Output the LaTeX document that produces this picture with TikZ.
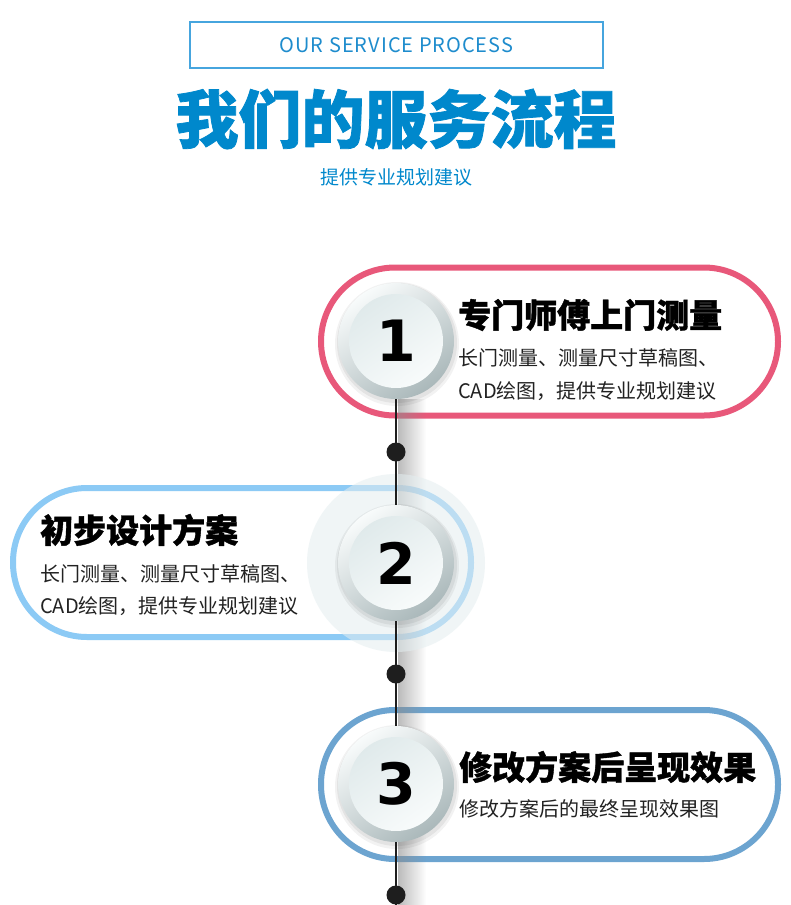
\documentclass[tikz,border=0pt]{standalone}
\usepackage{fontspec}
\setmainfont{Noto Sans CJK SC}
\newfontfamily\cjk{Noto Sans CJK SC}
\newfontfamily\titlefont[BoldFeatures={FakeBold=1.2}]{Noto Sans CJK SC}
\newfontfamily\spacedfont[LetterSpace=5]{Noto Sans CJK SC}
\newfontfamily\digitfont{DejaVu Sans}
\usetikzlibrary{fadings}
\tikzfading[name=fadeRight, left color=transparent!0, right color=transparent!100]
\definecolor{titleblue}{RGB}{0,136,204}
\definecolor{boxblue}{RGB}{70,165,222}
\definecolor{hdrtext}{RGB}{30,140,205}
\definecolor{pinkc}{RGB}{232,88,122}
\definecolor{lightbluec}{RGB}{140,202,245}
\definecolor{steelc}{RGB}{108,164,208}
\definecolor{linec}{RGB}{30,30,30}
\definecolor{bodyc}{RGB}{34,34,34}
\definecolor{ringlight}{RGB}{248,251,251}
\definecolor{ringdark}{RGB}{170,184,186}
\definecolor{disklight}{RGB}{248,251,251}
\definecolor{diskdark}{RGB}{224,234,235}
\definecolor{haloc}{RGB}{228,238,240}
\begin{document}
\begin{tikzpicture}[x=1pt,y=-1pt,
  pill/.style={draw, line width=6pt, rounded corners=74pt, inner sep=0, minimum width=457pt, minimum height=148pt},
  ring/.style={circle, inner sep=0, minimum size=116pt, shading=axis, top color=ringlight, bottom color=ringdark, shading angle=35},
  disk/.style={circle, inner sep=0, minimum size=94pt, shading=axis, top color=diskdark, bottom color=disklight, shading angle=35, font=\digitfont\bfseries\fontsize{57}{57}\selectfont, text=black},
  dotnode/.style={circle, fill=linec, inner sep=0, minimum size=19pt},
  headtext/.style={anchor=west, inner sep=0, font=\titlefont\bfseries\fontsize{33}{33}\selectfont, text=black},
  bodytext/.style={anchor=west, inner sep=0, font=\cjk\fontsize{20}{20}\selectfont, text=bodyc}
]
\useasboundingbox[fill=white] (0,0) rectangle (790,905);

% header
\node[draw=boxblue, line width=1.3pt, minimum width=413pt, minimum height=46pt, inner sep=0] (hdr) at (396.5,45) {};
\node[font=\spacedfont\fontsize{20}{20}\selectfont, text=hdrtext, inner sep=0] (hdrt) at (hdr.center) {OUR SERVICE PROCESS};
\node[font=\titlefont\bfseries\fontsize{63}{63}\selectfont, text=titleblue, inner sep=0] (title) at (396,119) {我们的服务流程};
\node[font=\cjk\fontsize{19}{19}\selectfont, text=titleblue, inner sep=0] (subtitle) at (396,177.5) {提供专业规划建议};

% centres
\coordinate (k1) at (396,341);
\coordinate (k2) at (396,563);
\coordinate (k3) at (396,784);
\coordinate (bot) at (396,905);

% pills
\node[pill, draw=pinkc] (p1) at (549.5,341.5) {};
\node[pill, draw=lightbluec, minimum width=458pt, minimum height=149pt] (p2) at (242,562.5) {};
\node[pill, draw=steelc, minimum height=149pt] (p3) at (549.5,784.5) {};

% shadow of the line
\fill[black!45, path fading=fadeRight, opacity=0.6] (397.5,398) rectangle (426,905);

% halo of circle 2
\fill[haloc, opacity=0.55] (k2) circle (89);

% soft shadows of the buttons
\foreach \k in {k1,k2,k3}{
  \fill[black, opacity=0.05] ([shift={(1,3)}]\k) circle (62);
  \fill[black, opacity=0.06] ([shift={(1,2)}]\k) circle (60);
}

% rings
\node[ring] (c1) at (k1) {};
\node[ring] (c2) at (k2) {};
\node[ring] (c3) at (k3) {};

% connector
\draw[linec, line width=2.5pt] (c1.south) -- (c2.north);
\draw[linec, line width=2.5pt] (c2.south) -- (c3.north);
\draw[linec, line width=2.5pt] (c3.south) -- (bot);

% disks with numbers
\node[disk] (n1) at (k1) {1};
\node[disk] (n2) at (k2) {2};
\node[disk] (n3) at (k3) {3};

% dots
\node[dotnode] (d1) at (396,452) {};
\node[dotnode] (d2) at (396,674) {};
\node[dotnode] (d3) at (396,895) {};

% texts
\node[headtext] (h1) at (458,315) {专门师傅上门测量};
\node[bodytext] (l1a) at (458,357.5) {长门测量、测量尺寸草稿图、};
\node[bodytext] (l1b) at (458,391) {CAD绘图，提供专业规划建议};

\node[headtext] (h2) at (40,530) {初步设计方案};
\node[bodytext] (l2a) at (40,573.5) {长门测量、测量尺寸草稿图、};
\node[bodytext] (l2b) at (40,606.5) {CAD绘图，提供专业规划建议};

\node[headtext] (h3) at (459,767) {修改方案后呈现效果};
\node[bodytext] (l3) at (459,809) {修改方案后的最终呈现效果图};
\end{tikzpicture}
\end{document}
